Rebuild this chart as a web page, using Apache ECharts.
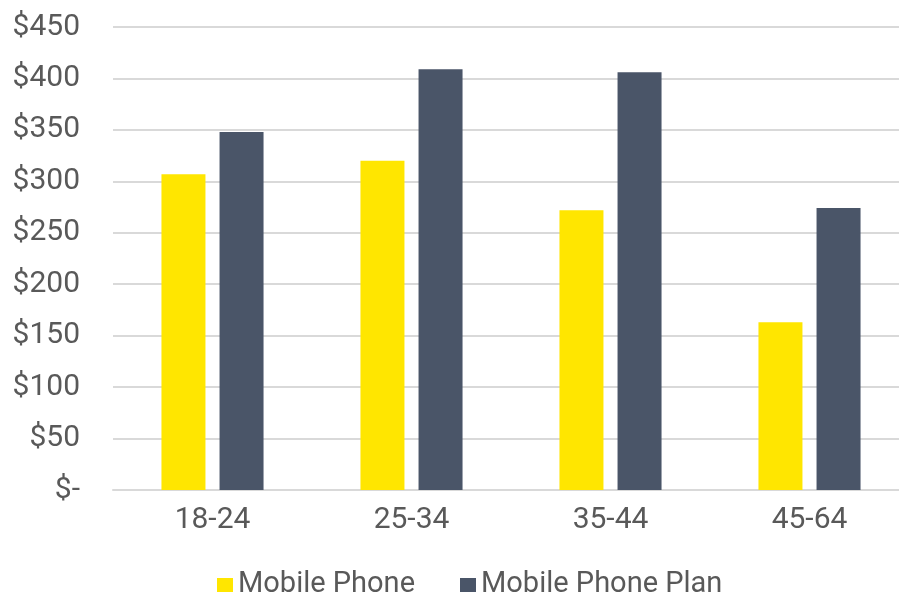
<!DOCTYPE html>
<html>
<head>
<meta charset="utf-8">
<script src="https://cdn.jsdelivr.net/npm/echarts@6/dist/echarts.min.js"></script>
<style>
  html, body { margin: 0; padding: 0; background: #fff; }
  #chart-container { width: 899px; height: 594px; }
</style>
</head>
<body>
<div id="chart-container"></div>
<script>
const ageGroups = ['18-24', '25-34', '35-44', '45-64'];
const mobilePhone = [307, 320, 272, 163];
const mobilePhonePlan = [348, 409, 406, 274];
const seriesNames = ['Mobile Phone', 'Mobile Phone Plan'];

const chartContainer = document.getElementById('chart-container');
const myChart = echarts.init(chartContainer);

const textColor = '#595959';
const gridColor = '#d9d9d9';
const fontFamily = 'Roboto';

const options = {
    backgroundColor: '#ffffff',
    animation: false,
    grid: {
        left: 113,
        top: 27,
        width: 796,
        height: 463,
        containLabel: false,
        outerBoundsMode: 'none'
    },
    legend: {
        data: seriesNames,
        left: 212,
        top: 565,
        itemWidth: 16,
        itemHeight: 14,
        itemGap: 45,
        icon: 'rect',
        textStyle: {
            color: textColor,
            fontSize: 29,
            fontFamily: fontFamily,
            lineHeight: 30
        }
    },
    xAxis: {
        type: 'category',
        data: ageGroups,
        axisLine: {
            lineStyle: { color: gridColor, width: 2 }
        },
        axisTick: { show: false },
        axisLabel: {
            color: textColor,
            fontSize: 30,
            fontFamily: fontFamily,
            margin: 15
        }
    },
    yAxis: {
        type: 'value',
        min: 0,
        max: 450,
        interval: 50,
        axisLine: { show: false },
        axisTick: { show: false },
        splitLine: {
            lineStyle: { color: gridColor, width: 2 }
        },
        axisLabel: {
            color: textColor,
            fontSize: 30,
            fontFamily: fontFamily,
            margin: 33,
            formatter: function (value) {
                return value === 0 ? '$-' : '$' + value;
            }
        }
    },
    series: [{
        name: seriesNames[0],
        type: 'bar',
        barWidth: 44,
        barGap: '32%',
        itemStyle: { color: '#ffe600' },
        data: mobilePhone
    }, {
        name: seriesNames[1],
        type: 'bar',
        barWidth: 44,
        barGap: '32%',
        itemStyle: { color: '#4a5568' },
        data: mobilePhonePlan
    }]
};

myChart.setOption(options);

window.addEventListener('resize', function () {
    myChart.resize();
});
</script>
</body>
</html>
